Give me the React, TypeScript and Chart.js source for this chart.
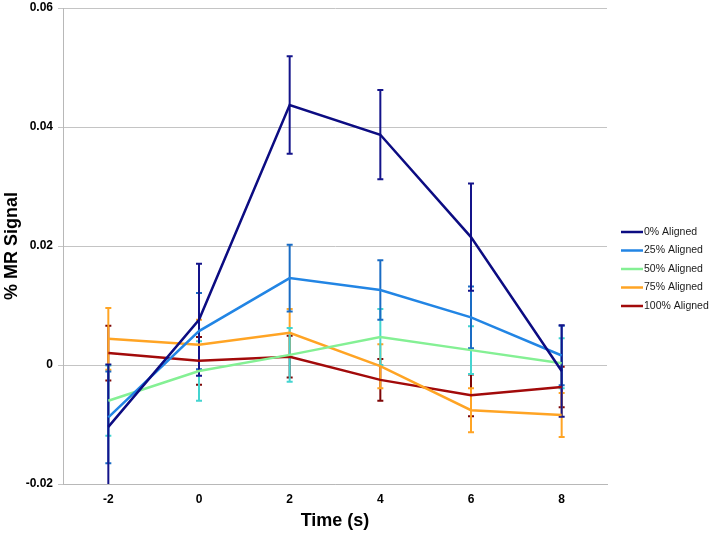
import React, { useEffect, useRef } from "react";
import { Chart, registerables } from "chart.js";

Chart.register(...registerables);

const timeLabels = ["-2", "0", "2", "4", "6", "8"];
const seriesNames = ["0% Aligned", "25% Aligned", "50% Aligned", "75% Aligned", "100% Aligned"];

const aligned0 = [-0.0104, 0.0076, 0.0437, 0.0387, 0.0215, -0.001];
const aligned0Err = [0.0105, 0.0094, 0.0082, 0.0075, 0.009, 0.0077];
const aligned25 = [-0.0088, 0.0057, 0.0146, 0.0126, 0.008, 0.0016];
const aligned25Err = [0.0077, 0.0064, 0.0056, 0.005, 0.0052, 0.005];
const aligned50 = [-0.006, -0.001, 0.0017, 0.0047, 0.0025, 0.0003];
const aligned50Err = [0.0059, 0.005, 0.0045, 0.0047, 0.004, 0.0042];
const aligned75 = [0.0044, 0.0034, 0.0054, -0.0002, -0.0076, -0.0084];
const aligned75Err = [0.0052, 0.0042, 0.004, 0.0037, 0.0037, 0.0037];
const aligned100 = [0.002, 0.0007, 0.0014, -0.0025, -0.0051, -0.0037];
const aligned100Err = [0.0046, 0.004, 0.0035, 0.0035, 0.0035, 0.0034];

const yTicks = [-0.02, 0, 0.02, 0.04, 0.06];

const seriesValues = [aligned0, aligned25, aligned50, aligned75, aligned100];
const seriesErrors = [aligned0Err, aligned25Err, aligned50Err, aligned75Err, aligned100Err];
const lineColors = ["#0c0c82", "#2285e4", "#84f094", "#ffa424", "#a20a0a"];
const errColors = ["#14148a", "#1a6cc4", "#44d4d0", "#ffa424", "#7e0606"];

const FONT = "'Liberation Sans', Arial, Helvetica, sans-serif";

const errorBarPlugin = {
  id: "errorBars",
  beforeDatasetsDraw(chart: any) {
    const { ctx, chartArea, scales } = chart;
    const xs = scales.x;
    const ys = scales.y;
    ctx.save();
    ctx.beginPath();
    ctx.rect(chartArea.left, chartArea.top, chartArea.right - chartArea.left, chartArea.bottom - chartArea.top);
    ctx.clip();
    for (let i = seriesValues.length - 1; i >= 0; i--) {
      const vals = seriesValues[i];
      const errs = seriesErrors[i];
      ctx.strokeStyle = errColors[i];
      ctx.lineWidth = 2;
      for (let j = 0; j < vals.length; j++) {
        const x = xs.getPixelForValue(j);
        const yTop = ys.getPixelForValue(vals[j] + errs[j]);
        const yBot = ys.getPixelForValue(vals[j] - errs[j]);
        ctx.beginPath();
        ctx.moveTo(x, yTop);
        ctx.lineTo(x, yBot);
        ctx.moveTo(x - 3, yTop);
        ctx.lineTo(x + 3, yTop);
        ctx.moveTo(x - 3, yBot);
        ctx.lineTo(x + 3, yBot);
        ctx.stroke();
      }
    }
    ctx.restore();
  },
};

const legendPlugin = {
  id: "customLegend",
  afterDraw(chart: any) {
    const { ctx } = chart;
    ctx.save();
    ctx.font = `10.5px ${FONT}`;
    ctx.textBaseline = "middle";
    ctx.textAlign = "left";
    for (let i = 0; i < seriesNames.length; i++) {
      const y = 232 + i * 18.5;
      ctx.strokeStyle = lineColors[i];
      ctx.lineWidth = 2.5;
      ctx.beginPath();
      ctx.moveTo(621, y);
      ctx.lineTo(643, y);
      ctx.stroke();
      ctx.fillStyle = "#1a1a1a";
      ctx.fillText(seriesNames[i], 644, y);
    }
    ctx.restore();
  },
};

export default function App() {
  const ref = useRef<HTMLCanvasElement | null>(null);
  useEffect(() => {
    if (!ref.current) return;
    const chart = new Chart(ref.current, {
      type: "line",
      data: {
        labels: timeLabels,
        datasets: seriesNames.map((name, i) => ({
          label: name,
          data: seriesValues[i],
          borderColor: lineColors[i],
          backgroundColor: lineColors[i],
          borderWidth: 2.5,
          pointRadius: 0,
          pointHoverRadius: 0,
          tension: 0,
          fill: false,
        })),
      },
      options: {
        animation: false,
        responsive: false,
        devicePixelRatio: 1,
        events: [],
        layout: { padding: { left: 0, top: 8, right: 104, bottom: 0 } },
        plugins: {
          legend: { display: false },
          tooltip: { enabled: false },
        },
        scales: {
          x: {
            type: "category",
            offset: true,
            grid: { display: true, drawOnChartArea: false, drawTicks: false, color: "#b8b8b8" },
            border: { display: true, color: "#b8b8b8", width: 1 },
            ticks: {
              color: "#000",
              font: { family: FONT, size: 12, weight: "bold" },
              padding: 8,
              maxRotation: 0,
            },
            title: {
              display: true,
              text: "Time (s)",
              color: "#000",
              font: { family: FONT, size: 18, weight: "bold" },
              padding: { top: 0, bottom: 1 },
            },
            afterFit(scale: any) {
              scale.height = 49;
              scale.paddingLeft = 0;
              scale.paddingRight = 0;
            },
          },
          y: {
            min: -0.02,
            max: 0.06,
            afterBuildTicks(scale: any) {
              scale.ticks = yTicks.map((v) => ({ value: v }));
            },
            grid: { color: "#c4c4c4", lineWidth: 1, tickLength: 5, drawTicks: true },
            border: { display: true, color: "#b8b8b8", width: 1 },
            ticks: {
              color: "#000",
              font: { family: FONT, size: 12, weight: "bold" },
              padding: 5,
              callback: (v: any) => {
                const n = Number(v);
                if (Math.abs(n) < 1e-9) return "0";
                return n.toFixed(2);
              },
            },
            title: {
              display: true,
              text: "% MR Signal",
              color: "#000",
              font: { family: FONT, size: 18, weight: "bold" },
              padding: { top: 1, bottom: 0 },
            },
            afterFit(scale: any) {
              scale.width = 63;
              scale.paddingTop = 0;
              scale.paddingBottom = 0;
            },
          },
        },
      },
      plugins: [errorBarPlugin, legendPlugin],
    });
    return () => chart.destroy();
  }, []);

  return (
    <div style={{ position: "fixed", left: 0, top: 0, width: 711, height: 533, background: "#fff" }}>
      <canvas ref={ref} width={711} height={533} style={{ display: "block", width: 711, height: 533 }} />
    </div>
  );
}
